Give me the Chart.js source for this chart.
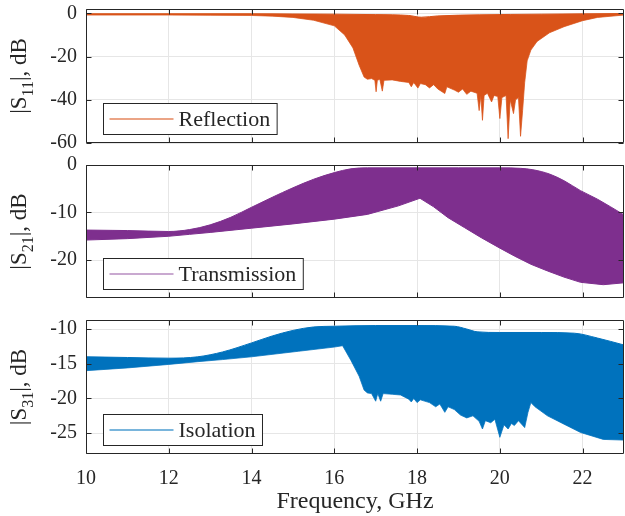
<!DOCTYPE html>
<html>
<head>
<meta charset="utf-8">
<script src="https://cdn.jsdelivr.net/npm/chart.js@4.4.0/dist/chart.umd.min.js"></script>
<style>
  html, body { margin: 0; padding: 0; background: #fff; }
  #wrap { position: relative; width: 625px; height: 516px; overflow: hidden; }
  canvas { position: absolute; left: 0; }
</style>
</head>
<body>
<div id="wrap">
  <canvas id="c1" width="625" height="150" style="top:0px"></canvas>
  <canvas id="c2" width="625" height="156" style="top:150px"></canvas>
  <canvas id="c3" width="625" height="210" style="top:306px"></canvas>
</div>
<script>
// frequency axis (GHz)
const xTicks = [10, 12, 14, 16, 18, 20, 22];

// |S11| envelope of all traces, dB
const s11UpperFreq = [10, 14, 15, 16, 17, 17.8, 18.1, 18.5, 19.5, 21, 23];
const s11Upper = [-0.2, -0.2, -0.3, -0.4, -0.6, -1.0, -1.8, -1.2, -0.7, -0.4, -0.1];
const s11LowerFreq = [10, 12, 13, 14, 14.5, 15, 15.5, 16, 16.25, 16.45,
  16.6, 16.72, 16.8, 16.9, 16.98, 17.01, 17.04, 17.1, 17.16, 17.2,
  17.4, 17.6, 17.8, 17.86, 17.92, 18.02, 18.08, 18.2, 18.3, 18.4,
  18.5, 18.67, 18.72, 18.9, 19.0, 19.1, 19.2, 19.3, 19.45, 19.5,
  19.54, 19.58, 19.62, 19.7, 19.8, 19.86, 19.95, 20.0, 20.05, 20.15,
  20.2, 20.25, 20.33, 20.38, 20.45, 20.5, 20.55, 20.6, 20.66, 20.75,
  20.9, 21.2, 21.55, 22, 22.36, 23];
const s11Lower = [-0.8, -0.8, -0.9, -1.0, -1.3, -1.9, -3.2, -5.8, -10, -16,
  -24, -29.5, -30.5, -30.2, -31, -36.3, -31, -30.5, -36, -31,
  -30.8, -31.5, -32, -34, -32, -34.6, -32.5, -33, -34.5, -33,
  -35, -37.1, -34, -35.5, -36.5, -35, -37.5, -36, -37, -45,
  -38, -49.5, -38, -37, -41, -38, -38.5, -48.7, -39, -38,
  -58, -40, -46.4, -40, -39, -56.9, -45, -32, -22, -17,
  -13, -9, -6.2, -3.4, -1.9, -0.8];

// |S21| envelope, dB
const s21UpperFreq = [10, 11, 12, 12.5, 13, 13.5, 14, 14.5, 15, 15.5, 16, 16.4, 16.8, 18, 19, 20, 20.5, 20.8, 21.2, 21.55, 21.95, 22.36, 23];
const s21Upper = [-13.7, -13.8, -14.0, -13.6, -12.6, -11.0, -8.9, -6.8, -4.8, -3.0, -1.6, -0.8, -0.6, -0.6, -0.6, -0.6, -0.7, -1.0, -1.9, -3.3, -5.4, -7.2, -10.5];
const s21LowerFreq = [10, 11, 12, 12.5, 13, 14, 15, 16, 16.8, 17.55, 18.07, 18.4, 18.75, 19.15, 19.55, 20, 20.36, 20.75, 21.15, 21.55, 21.95, 22.5, 23];
const s21Lower = [-15.8, -15.5, -15.0, -14.6, -14.2, -13.3, -12.4, -11.4, -10.4, -8.6, -7.0, -8.8, -11.1, -13.2, -15.3, -17.5, -19.2, -20.9, -22.3, -23.6, -24.7, -25.2, -24.8];

// |S31| envelope, dB
const s31UpperFreq = [10, 11, 12, 12.7, 13.3, 14, 14.5, 15, 15.5, 16, 17, 18, 18.9, 19.2, 19.45, 20, 21, 21.8, 22.36, 23];
const s31Upper = [-14.0, -14.1, -14.2, -14.0, -13.3, -12.0, -11.0, -10.2, -9.7, -9.6, -9.5, -9.5, -9.6, -10.0, -10.4, -10.5, -10.5, -10.6, -11.3, -12.3];
const s31LowerFreq = [10, 11, 12, 12.7, 13.3, 14, 15.14, 16, 16.2, 16.4,
  16.6, 16.72, 16.8, 16.9, 17.0, 17.05, 17.12, 17.18, 17.4, 17.6,
  17.8, 17.86, 17.92, 18.0, 18.08, 18.3, 18.45, 18.55, 18.67, 18.75,
  18.9, 19.05, 19.2, 19.35, 19.5, 19.58, 19.65, 19.78, 19.88, 20.0,
  20.1, 20.2, 20.28, 20.35, 20.45, 20.6, 20.68, 20.75, 20.85, 21.15,
  21.55, 21.95, 22.5, 23];
const s31Lower = [-16.0, -15.6, -15.1, -14.7, -14.4, -14.0, -13.2, -12.6, -12.4, -14.5,
  -16.8, -18.8, -19.2, -19.3, -20.4, -19.3, -20.4, -19.3, -19.4, -19.5,
  -20.1, -20.5, -20.0, -20.6, -20.2, -20.6, -21.2, -20.8, -22.0, -21.2,
  -21.6, -22.4, -22.8, -22.5, -23.3, -24.4, -23.2, -23.5, -23.0, -25.6,
  -23.8, -24.4, -23.6, -23.9, -23.2, -24.2, -22.0, -20.6, -21.2, -22.5,
  -23.7, -24.9, -25.9, -26.0];

// panel labels
const seriesNames = ['Reflection', 'Transmission', 'Isolation'];
const ySubscripts = ['11', '21', '31'];
const s11Ticks = [-60, -40, -20, 0];
const s21Ticks = [-20, -10, 0];
const s31Ticks = [-25, -20, -15, -10];

const FONT = "'Liberation Serif', 'Times New Roman', serif";
const TEXT = '#262626';
const GRID = '#e6e6e6';

Chart.defaults.font.family = FONT;
Chart.defaults.color = TEXT;

// pair up x and y arrays
function toPoints(xs, ys) {
    return xs.map((x, i) => ({ x: x, y: ys[i] }));
}

// box, inward ticks, y title and legend, MATLAB style
const framePlugin = {
    id: 'frame',
    afterDraw(chart, args, opts) {
        const ctx = chart.ctx;
        const a = chart.chartArea;
        const xs = chart.scales.x;
        const ys = chart.scales.y;
        const L = Math.round(a.left) + 0.5, R = Math.round(a.right) - 0.5;
        const T = Math.round(a.top) + 0.5, B = Math.round(a.bottom) - 0.5;

        ctx.save();
        ctx.strokeStyle = TEXT;
        ctx.lineWidth = 1;
        ctx.beginPath();
        ctx.rect(L, T, R - L, B - T);
        xs.ticks.forEach(t => {
            const px = Math.round(xs.getPixelForValue(t.value)) + 0.5;
            ctx.moveTo(px, B); ctx.lineTo(px, B - 5);
            ctx.moveTo(px, T); ctx.lineTo(px, T + 5);
        });
        ys.ticks.forEach(t => {
            const py = Math.round(ys.getPixelForValue(t.value)) + 0.5;
            ctx.moveTo(L, py); ctx.lineTo(L + 5, py);
            ctx.moveTo(R, py); ctx.lineTo(R - 5, py);
        });
        ctx.stroke();

        // y axis title |S_xx|, dB with a subscript
        const mainFont = '23px ' + FONT;
        const subFont = '16px ' + FONT;
        ctx.fillStyle = TEXT;
        ctx.textBaseline = 'alphabetic';
        ctx.textAlign = 'left';
        ctx.font = mainFont;
        const w1 = ctx.measureText('|S').width;
        const w2 = ctx.measureText('|, dB').width;
        ctx.font = subFont;
        const ws = ctx.measureText(opts.sub).width;
        const total = w1 + ws + w2;
        ctx.save();
        ctx.translate(26, (a.top + a.bottom) / 2);
        ctx.rotate(-Math.PI / 2);
        ctx.font = mainFont;
        ctx.fillText('|S', -total / 2, 0);
        ctx.font = subFont;
        ctx.fillText(opts.sub, -total / 2 + w1, 7);
        ctx.font = mainFont;
        ctx.fillText('|, dB', -total / 2 + w1 + ws, 0);
        ctx.restore();

        // legend box in the lower left corner
        ctx.font = '22px ' + FONT;
        const tw = ctx.measureText(opts.label).width;
        const bx = Math.round(a.left) + 17.5;
        const bh = 31;
        const by = Math.round(a.bottom) - 9 - bh + 0.5;
        const bw = 75 + tw + 7;
        ctx.fillStyle = '#ffffff';
        ctx.fillRect(bx, by, bw, bh);
        ctx.strokeStyle = TEXT;
        ctx.lineWidth = 1;
        ctx.strokeRect(bx, by, bw, bh);
        const my = by + bh / 2;
        ctx.strokeStyle = opts.legendColor;
        ctx.lineWidth = 1.5;
        ctx.beginPath();
        ctx.moveTo(bx + 6, my);
        ctx.lineTo(bx + 70, my);
        ctx.stroke();
        ctx.fillStyle = TEXT;
        ctx.textBaseline = 'middle';
        ctx.fillText(opts.label, bx + 75, my + 1);
        ctx.restore();
    }
};

// build one panel
function makePanel(id, p) {
    const ctx = document.getElementById(id).getContext('2d');
    new Chart(ctx, {
        type: 'line',
        data: {
            datasets: [{
                label: p.label + ' max',
                data: toPoints(p.upperFreq, p.upper),
                borderColor: p.color,
                backgroundColor: p.color,
                borderWidth: 1,
                pointRadius: 0,
                cubicInterpolationMode: 'monotone',
                fill: '+1'
            }, {
                label: p.label + ' min',
                data: toPoints(p.lowerFreq, p.lower),
                borderColor: p.edge,
                borderWidth: 1,
                pointRadius: 0,
                fill: false
            }]
        },
        options: {
            responsive: false,
            animation: false,
            devicePixelRatio: 1,
            layout: { padding: { top: p.top, right: 1, left: 0, bottom: 0 } },
            plugins: {
                legend: { display: false },
                tooltip: { enabled: false },
                frame: { sub: p.sub, label: p.label, legendColor: p.legendColor }
            },
            scales: {
                x: {
                    type: 'linear',
                    min: 10,
                    max: 23,
                    afterBuildTicks: s => { s.ticks = xTicks.map(v => ({ value: v })); },
                    ticks: { display: p.showX, font: { size: 20 }, padding: 13, maxRotation: 0 },
                    grid: { color: GRID, drawTicks: false },
                    border: { display: false },
                    title: { display: p.showX, text: 'Frequency, GHz', font: { size: 24 }, padding: 0 },
                    afterFit: s => {
                        s.height = p.xHeight;
                        s.paddingLeft = 0;
                        s.paddingRight = 0;
                    }
                },
                y: {
                    min: p.ymin,
                    max: p.ymax,
                    afterBuildTicks: s => { s.ticks = p.yTicks.map(v => ({ value: v })); },
                    ticks: { font: { size: 20 }, padding: 9 },
                    grid: { color: GRID, drawTicks: false },
                    border: { display: false },
                    afterFit: s => {
                        s.width = 86;
                        s.paddingTop = 0;
                        s.paddingBottom = 0;
                    }
                }
            }
        },
        plugins: [framePlugin]
    });
}

makePanel('c1', {
    label: seriesNames[0], sub: ySubscripts[0],
    upperFreq: s11UpperFreq, upper: s11Upper, lowerFreq: s11LowerFreq, lower: s11Lower,
    color: '#d95319', edge: 'rgba(217,83,25,0.75)', legendColor: 'rgba(217,83,25,0.7)',
    ymin: -60, ymax: 2, yTicks: s11Ticks, top: 9, xHeight: 7, showX: false
});

makePanel('c2', {
    label: seriesNames[1], sub: ySubscripts[1],
    upperFreq: s21UpperFreq, upper: s21Upper, lowerFreq: s21LowerFreq, lower: s21Lower,
    color: '#7e2f8e', edge: '#7e2f8e', legendColor: 'rgba(126,47,142,0.55)',
    ymin: -28, ymax: 0, yTicks: s21Ticks, top: 15, xHeight: 8, showX: false
});

makePanel('c3', {
    label: seriesNames[2], sub: ySubscripts[2],
    upperFreq: s31UpperFreq, upper: s31Upper, lowerFreq: s31LowerFreq, lower: s31Lower,
    color: '#0072bd', edge: 'rgba(0,114,189,0.75)', legendColor: 'rgba(0,114,189,0.7)',
    ymin: -28, ymax: -8.7, yTicks: s31Ticks, top: 14, xHeight: 62, showX: true
});
</script>
</body>
</html>
